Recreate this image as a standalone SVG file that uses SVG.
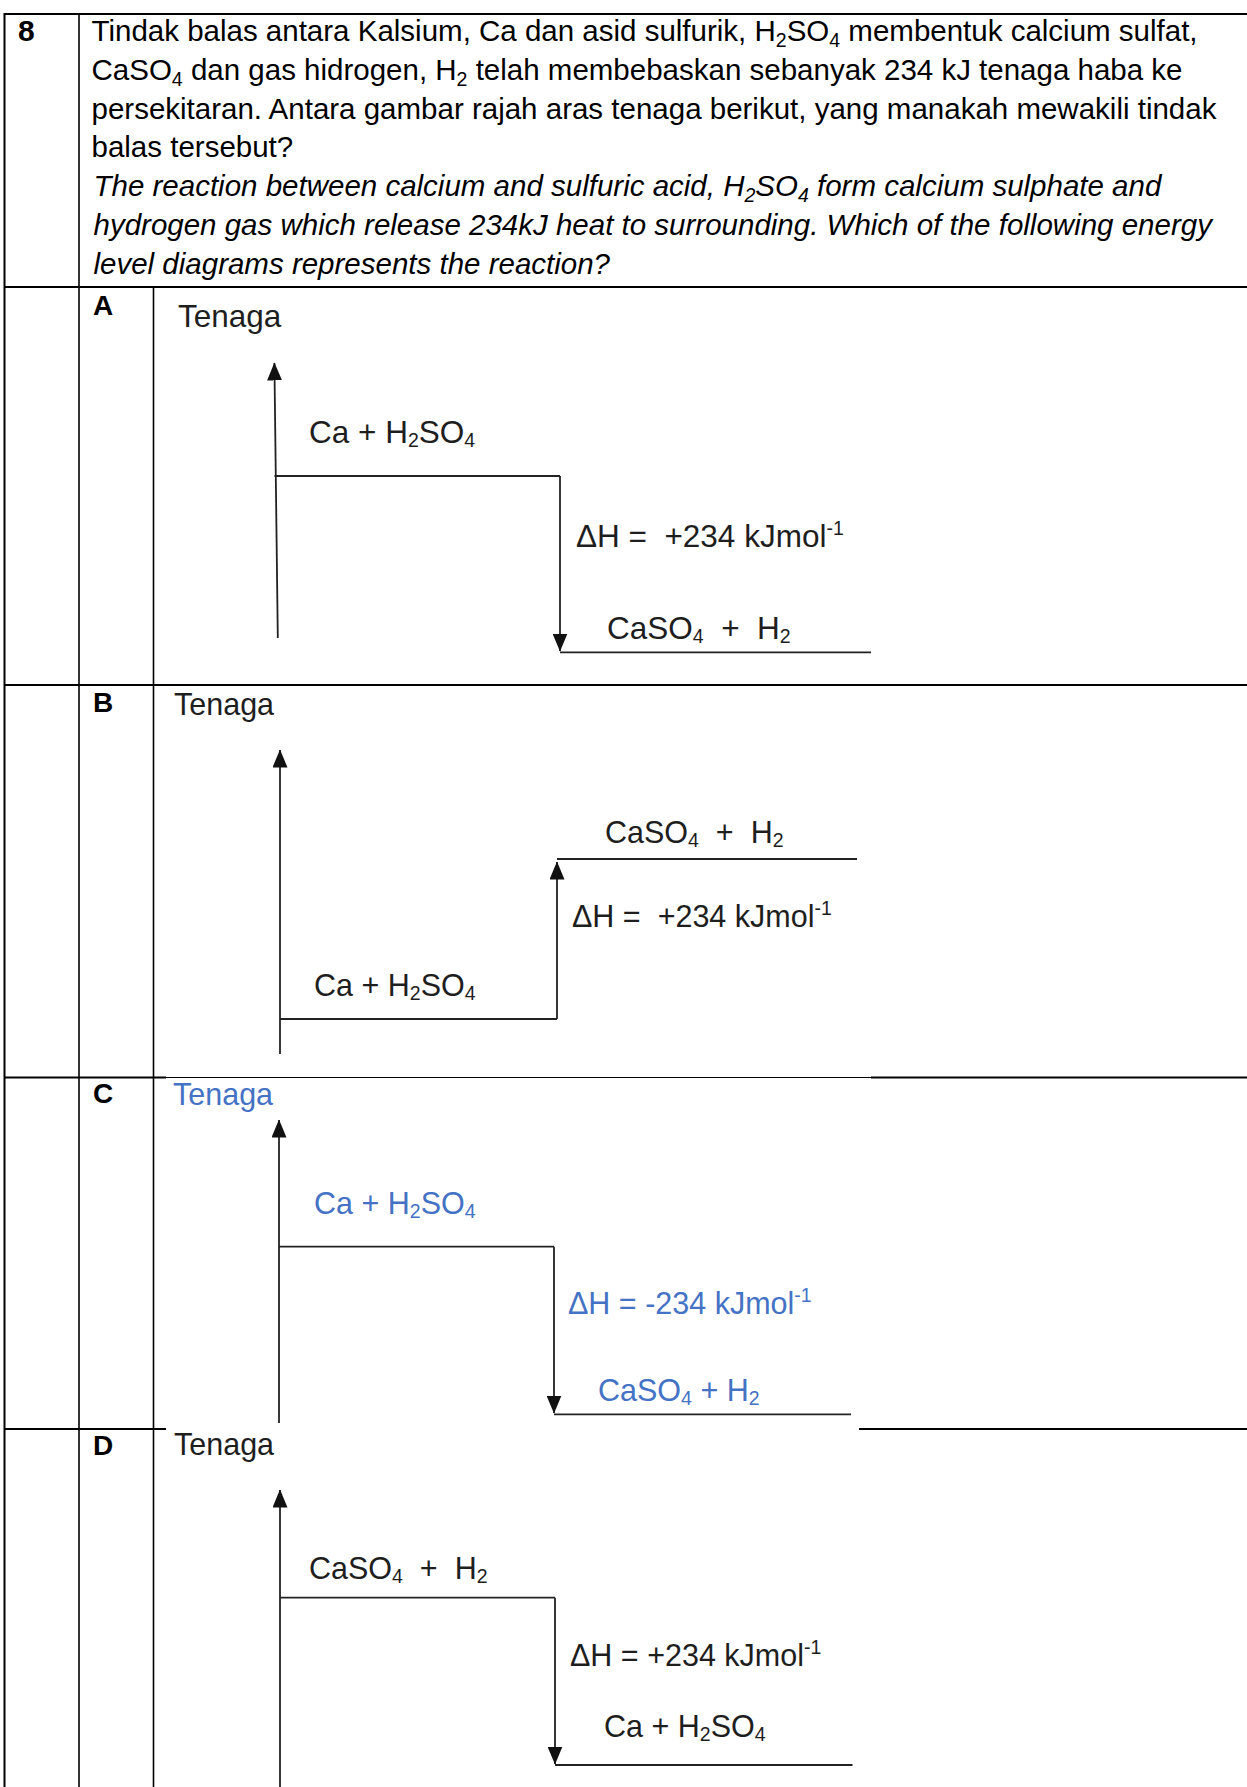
<svg xmlns="http://www.w3.org/2000/svg" width="1247" height="1787" viewBox="0 0 1247 1787">
<defs>
<style>
.q{font-family:"Liberation Sans",Arial,sans-serif;font-size:29.5px;fill:#000;white-space:pre}
.qi{font-style:italic}
.lbl{font-family:"Liberation Sans",Arial,sans-serif;font-size:28px;font-weight:bold;fill:#000}
.num{font-size:30px}
.d{font-family:"Liberation Sans",Arial,sans-serif;font-size:30.5px;fill:#1e1e1e;white-space:pre}
.da{font-size:31.5px}
.blue{fill:#4472c4}
.sub{font-size:19.5px}
.tb{stroke:#000;fill:none}
.lvl{stroke:#222;stroke-width:1.8;fill:none}
.arr{stroke:#222;stroke-width:1.8;fill:none;marker-end:url(#ah)}
</style>
<marker id="ah" viewBox="0 0 18 15" refX="17.5" refY="7.5" markerWidth="18" markerHeight="15" markerUnits="userSpaceOnUse" orient="auto">
<path d="M0,0 L18,7.5 L0,15 Z" fill="#111"/>
</marker>
</defs>
<rect x="0" y="0" width="1247" height="1787" fill="#fff"/>

<g id="table">
<line class="tb" x1="4" y1="14" x2="1247" y2="14" stroke-width="2.2"/>
<line class="tb" x1="4.5" y1="13" x2="4.5" y2="1787" stroke-width="2"/>
<line class="tb" x1="79" y1="14" x2="79" y2="1787" stroke-width="1.6"/>
<line class="tb" x1="4" y1="287" x2="1247" y2="287" stroke-width="2.2"/>
<line class="tb" x1="153.5" y1="287" x2="153.5" y2="1787" stroke-width="1.6"/>
<line class="tb" x1="4" y1="685" x2="1247" y2="685" stroke-width="2"/>
<line class="tb" x1="4" y1="1077.5" x2="166" y2="1077.5" stroke-width="2"/>
<line class="tb" x1="166" y1="1077.5" x2="871" y2="1077.5" stroke-width="1.2"/>
<line class="tb" x1="871" y1="1077.5" x2="1247" y2="1077.5" stroke-width="2"/>
<line class="tb" x1="4" y1="1429" x2="166" y2="1429" stroke-width="2"/>
<line class="tb" x1="859" y1="1429" x2="1247" y2="1429" stroke-width="2"/>
</g>

<g id="question">
<text class="lbl num" x="18" y="41">8</text>
<text class="q" x="91.5" y="41">Tindak balas antara Kalsium, Ca dan asid sulfurik, H<tspan class="sub" dy="6">2</tspan><tspan dy="-6">SO</tspan><tspan class="sub" dy="6">4</tspan><tspan dy="-6"> membentuk calcium sulfat,</tspan></text>
<text class="q" x="91.5" y="79.8">CaSO<tspan class="sub" dy="6">4</tspan><tspan dy="-6"> dan gas hidrogen, H</tspan><tspan class="sub" dy="6">2</tspan><tspan dy="-6"> telah membebaskan sebanyak 234 kJ tenaga haba ke</tspan></text>
<text class="q" x="91.5" y="118.6">persekitaran. Antara gambar rajah aras tenaga berikut, yang manakah mewakili tindak</text>
<text class="q" x="91.5" y="157.4">balas tersebut?</text>
<text class="q qi" x="93.5" y="196.2">The reaction between calcium and sulfuric acid, H<tspan class="sub" dy="6">2</tspan><tspan dy="-6">SO</tspan><tspan class="sub" dy="6">4</tspan><tspan dy="-6"> form calcium sulphate and</tspan></text>
<text class="q qi" x="93.5" y="235">hydrogen gas which release 234kJ heat to surrounding. Which of the following energy</text>
<text class="q qi" x="93.5" y="273.8">level diagrams represents the reaction?</text>
</g>

<g id="option-A">
<text class="lbl" x="93" y="315">A</text>
<text class="d da" x="178" y="327">Tenaga</text>
<path class="lvl" d="M274.5,476 H560"/>
<path class="lvl" d="M560,652.3 H871"/>
<text class="d da" x="309" y="443">Ca + H<tspan class="sub" dy="4">2</tspan><tspan dy="-4">SO</tspan><tspan class="sub" dy="4">4</tspan></text>
<text class="d da" x="576" y="547">ΔH =&#160; +234 kJmol<tspan class="sub" dy="-12">-1</tspan></text>
<text class="d da" x="607" y="639">CaSO<tspan class="sub" dy="4">4</tspan><tspan dy="-4">&#160; +&#160; H</tspan><tspan class="sub" dy="4">2</tspan></text>
</g>

<g id="option-B">
<text class="lbl" x="93" y="712">B</text>
<text class="d" x="174" y="715">Tenaga</text>
<path class="lvl" d="M280,1019 H557"/>
<path class="lvl" d="M557,859 H857"/>
<text class="d" x="605" y="843">CaSO<tspan class="sub" dy="4">4</tspan><tspan dy="-4">&#160; +&#160; H</tspan><tspan class="sub" dy="4">2</tspan></text>
<text class="d" x="572" y="927">ΔH =&#160; +234 kJmol<tspan class="sub" dy="-12">-1</tspan></text>
<text class="d" x="314" y="996">Ca + H<tspan class="sub" dy="4">2</tspan><tspan dy="-4">SO</tspan><tspan class="sub" dy="4">4</tspan></text>
</g>

<g id="option-C">
<text class="lbl" x="93" y="1103">C</text>
<text class="d blue" x="173" y="1105">Tenaga</text>
<path class="lvl" d="M279,1246.7 H554"/>
<path class="lvl" d="M554,1414.3 H851"/>
<text class="d blue" x="314" y="1214">Ca + H<tspan class="sub" dy="4">2</tspan><tspan dy="-4">SO</tspan><tspan class="sub" dy="4">4</tspan></text>
<text class="d blue" x="568" y="1314">ΔH = -234 kJmol<tspan class="sub" dy="-12">-1</tspan></text>
<text class="d blue" x="598" y="1400.7">CaSO<tspan class="sub" dy="4">4</tspan><tspan dy="-4"> + H</tspan><tspan class="sub" dy="4">2</tspan></text>
</g>

<g id="option-D">
<text class="lbl" x="93" y="1455">D</text>
<text class="d" x="174" y="1455">Tenaga</text>
<path class="lvl" d="M280,1597.7 H555"/>
<path class="lvl" d="M555,1765 H852.5"/>
<text class="d" x="309" y="1579">CaSO<tspan class="sub" dy="4">4</tspan><tspan dy="-4">&#160; +&#160; H</tspan><tspan class="sub" dy="4">2</tspan></text>
<text class="d" x="570" y="1666">ΔH = +234 kJmol<tspan class="sub" dy="-12">-1</tspan></text>
<text class="d" x="604" y="1737">Ca + H<tspan class="sub" dy="4">2</tspan><tspan dy="-4">SO</tspan><tspan class="sub" dy="4">4</tspan></text>
</g>

<g id="connectors">
<path class="arr" d="M277.8,638 L274.4,363"/>
<path class="arr" d="M560,476 V651"/>
<path class="arr" d="M280,1054 V750"/>
<path class="arr" d="M557,1019 V862"/>
<path class="arr" d="M279,1423 V1120"/>
<path class="arr" d="M554,1246.7 V1413"/>
<path class="arr" d="M280,1787 V1490"/>
<path class="arr" d="M555,1597.7 V1764"/>
</g>
</svg>
